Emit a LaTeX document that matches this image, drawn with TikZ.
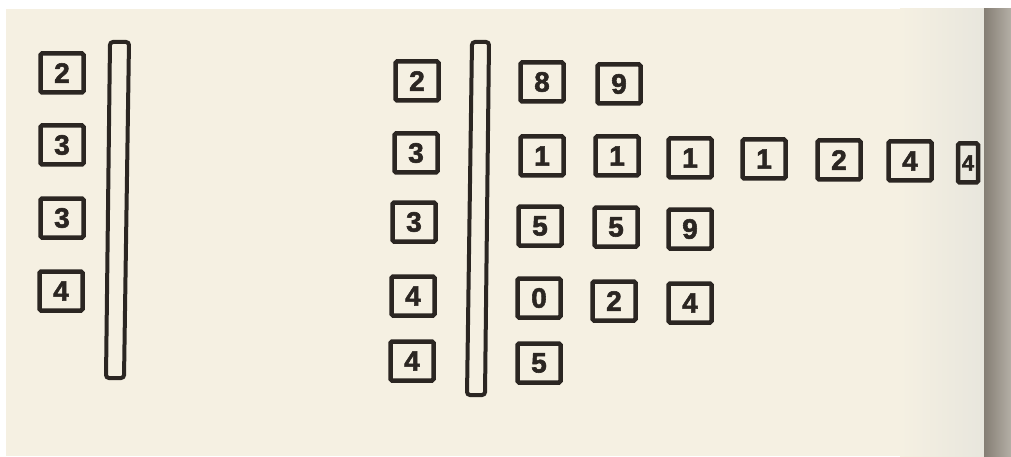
\documentclass[tikz,border=0pt]{standalone}
\usepackage{fontspec}
\newfontfamily\digitfont{Liberation Sans}[BoldFeatures={FakeBold=2}]
\definecolor{paper}{HTML}{F5F0E2}
\definecolor{paperR}{HTML}{E8E6DD}
\definecolor{ink}{HTML}{2B2622}
\definecolor{edgeD}{HTML}{857E74}
\definecolor{edgeL}{HTML}{B4AFA6}
\tikzset{
  digit/.style={draw=ink, line width=4.5pt, rounded corners=1.5pt, minimum width=43pt, minimum height=39pt,
    inner sep=0pt, text=ink, font=\digitfont\bfseries\fontsize{28}{28}\selectfont},
  narrowdigit/.style={digit, minimum width=20pt},
  bar/.style={draw=ink, line width=4pt, rounded corners=3pt}
}
\begin{document}
\begin{tikzpicture}[x=1pt,y=-1pt]
\useasboundingbox (0,0) rectangle (1011,457);
% paper
\fill[white] (0,0) rectangle (1011,457);
\fill[paper] (6,9) rectangle (900,456);
\shade[left color=paper, right color=paperR] (900,9) rectangle (984,456);
\shade[left color=edgeD, right color=edgeL] (984,9) rectangle (1011,457);

% bars
\draw[bar] (110,42) -- (129,42) -- (124,378) -- (106,378) -- cycle;
\draw[bar] (472,42) -- (489,42) -- (485,395) -- (467,395) -- cycle;

% left column
\node[digit] (l1) at (62,73) {2};
\node[digit] (l2) at (62,145) {3};
\node[digit] (l3) at (62,218) {3};
\node[digit] (l4) at (61,291) {4};

% middle column
\node[digit] (m1) at (417,81) {2};
\node[digit] (m2) at (416,153) {3};
\node[digit] (m3) at (414,222) {3};
\node[digit] (m4) at (413,296) {4};
\node[digit] (m5) at (412,361) {4};

% right group
\node[digit] (r11) at (542,82) {8};
\node[digit] (r12) at (619,84) {9};

\node[digit] (r21) at (542,156) {1};
\node[digit] (r22) at (617,156) {1};
\node[digit] (r23) at (690,158) {1};
\node[digit] (r24) at (764,159) {1};
\node[digit] (r25) at (839,160) {2};
\node[digit] (r26) at (910,161) {4};
\node[narrowdigit, font=\digitfont\bfseries\fontsize{22}{22}\selectfont] (r27) at (968,163) {4};

\node[digit] (r31) at (540,226) {5};
\node[digit] (r32) at (616,227) {5};
\node[digit] (r33) at (690,229) {9};

\node[digit] (r41) at (539,298) {0};
\node[digit] (r42) at (614,301) {2};
\node[digit] (r43) at (690,303) {4};

\node[digit] (r51) at (539,363) {5};
\end{tikzpicture}
\end{document}
